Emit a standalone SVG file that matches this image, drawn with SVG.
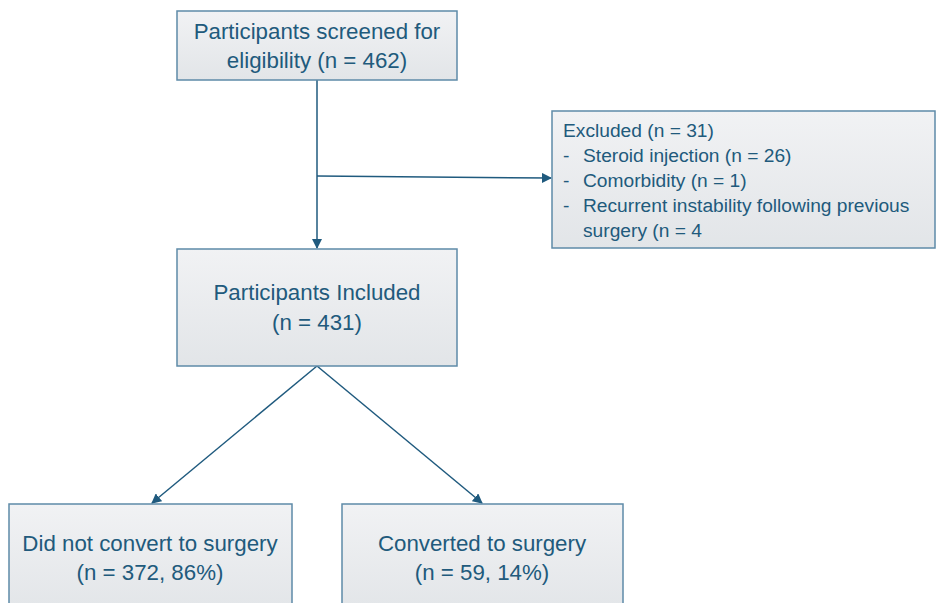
<svg xmlns="http://www.w3.org/2000/svg" width="936" height="603" viewBox="0 0 936 603">
<defs>
<linearGradient id="g" x1="0" y1="0" x2="0" y2="1">
<stop offset="0" stop-color="#f1f2f4"/>
<stop offset="1" stop-color="#e2e5e8"/>
</linearGradient>
<marker id="ah" viewBox="0 0 10 10" refX="9" refY="5" markerWidth="10" markerHeight="10" markerUnits="userSpaceOnUse" orient="auto">
<path d="M0,0 L10,5 L0,10 z" fill="#1f5a7e"/>
</marker>
</defs>
<style>
.box{fill:url(#g);stroke:#5e8aa8;stroke-width:1.5}
.t{font-family:"Liberation Sans",Arial,sans-serif;font-size:22.3px;fill:#215a7c}
.s{font-family:"Liberation Sans",Arial,sans-serif;font-size:19.2px;fill:#215a7c}
.c{text-anchor:middle}
.ln{stroke:#1f5a7e;stroke-width:1.5;fill:none}
</style>
<rect width="936" height="603" fill="#ffffff"/>
<g id="connectors">
<line class="ln" x1="317" y1="80" x2="317" y2="248" marker-end="url(#ah)"/>
<line class="ln" x1="317" y1="176" x2="551" y2="178" marker-end="url(#ah)"/>
<line class="ln" x1="317" y1="366" x2="152" y2="503" marker-end="url(#ah)"/>
<line class="ln" x1="317" y1="366" x2="482" y2="503" marker-end="url(#ah)"/>
</g>
<g id="screened">
<rect class="box" x="177" y="11" width="280" height="69"/>
<text class="t c" x="317" y="39">Participants screened for</text>
<text class="t c" x="317" y="68">eligibility (n = 462)</text>
</g>
<g id="excluded">
<rect class="box" x="552" y="111" width="383" height="137"/>
<text class="s" x="563" y="137">Excluded (n = 31)</text>
<text class="s" x="563" y="162">-</text>
<text class="s" x="583" y="162">Steroid injection (n = 26)</text>
<text class="s" x="563" y="187">-</text>
<text class="s" x="583" y="187">Comorbidity (n = 1)</text>
<text class="s" x="563" y="212">-</text>
<text class="s" x="583" y="212">Recurrent instability following previous</text>
<text class="s" x="583" y="237">surgery (n = 4</text>
</g>
<g id="included">
<rect class="box" x="177" y="249" width="280" height="117"/>
<text class="t c" x="317" y="300">Participants Included</text>
<text class="t c" x="317" y="330">(n = 431)</text>
</g>
<g id="notconverted">
<rect class="box" x="9" y="504" width="283" height="110"/>
<text class="t c" x="150" y="551">Did not convert to surgery</text>
<text class="t c" x="150" y="580">(n = 372, 86%)</text>
</g>
<g id="converted">
<rect class="box" x="342" y="504" width="281" height="110"/>
<text class="t c" x="482" y="551">Converted to surgery</text>
<text class="t c" x="482" y="580">(n = 59, 14%)</text>
</g>
</svg>
